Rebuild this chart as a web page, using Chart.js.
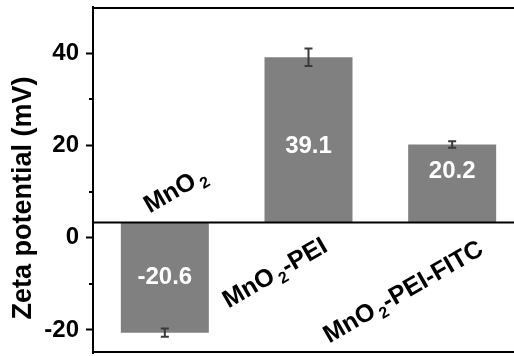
<!DOCTYPE html>
<html><head><meta charset="utf-8">
<script src="https://cdn.jsdelivr.net/npm/chart.js@4/dist/chart.umd.min.js"></script>
<style>
html,body{margin:0;padding:0;overflow:hidden;background:#fff;width:514px;height:356px}
#wrap{width:524px;height:356px}
</style></head>
<body><div id="wrap"><canvas id="c" width="524" height="356"></canvas></div>
<script>
// ---- data ----
const categories = ['MnO2', 'MnO2-PEI', 'MnO2-PEI-FITC'];
const zetaValues = [-20.6, 39.1, 20.2];
const zetaErrors = [0.9, 1.9, 0.7];
const valueLabels = ['-20.6', '39.1', '20.2'];
const yTickLabels = [-20, 0, 20, 40];
const yMinorTicks = [-10, 10, 30];
const baselineValue = 3.3;
const yTitle = 'Zeta potential (mV)';

// ---- styles / positions (drawing only) ----
const FAMILY = '"Liberation Sans", Arial, sans-serif';
const labelOffsets = [[-15, -9], [-80, 86], [-123, 121]];
const valueLabelShift = [0, 7, -12];

const overlay = {
  id: 'overlay',
  afterDatasetsDraw(chart) {
    const {ctx, chartArea: a, scales: {x, y}} = chart;
    ctx.save();
    ctx.strokeStyle = '#000';
    ctx.lineWidth = 2;
    const yb = y.getPixelForValue(baselineValue);
    [a.top + 1, a.bottom - 1, yb].forEach(py => {
      ctx.beginPath(); ctx.moveTo(a.left, py); ctx.lineTo(a.right, py); ctx.stroke();
    });
    yMinorTicks.forEach(v => {
      const py = Math.round(y.getPixelForValue(v));
      ctx.beginPath(); ctx.moveTo(a.left - 4, py); ctx.lineTo(a.left, py); ctx.stroke();
    });
    ctx.strokeStyle = '#3a3a3a';
    ctx.lineWidth = 2;
    zetaValues.forEach((v, i) => {
      const px = x.getPixelForValue(i);
      const t = y.getPixelForValue(v + zetaErrors[i]);
      const b = y.getPixelForValue(v - zetaErrors[i]);
      ctx.beginPath();
      ctx.moveTo(px, t); ctx.lineTo(px, b);
      ctx.moveTo(px - 4, t); ctx.lineTo(px + 4, t);
      ctx.moveTo(px - 4, b); ctx.lineTo(px + 4, b);
      ctx.stroke();
    });
    ctx.fillStyle = '#fff';
    ctx.font = 'bold 24px ' + FAMILY;
    ctx.textAlign = 'center';
    ctx.textBaseline = 'middle';
    zetaValues.forEach((v, i) => {
      const px = x.getPixelForValue(i);
      const py = (y.getPixelForValue(v) + yb) / 2 + valueLabelShift[i];
      ctx.fillText(valueLabels[i], px, py);
    });
    ctx.fillStyle = '#000';
    ctx.textAlign = 'left';
    ctx.textBaseline = 'alphabetic';
    categories.forEach((c, i) => {
      const m = c.match(/^(MnO)(2)(.*)$/);
      const px = x.getPixelForValue(i) + labelOffsets[i][0];
      const py = yb + labelOffsets[i][1];
      ctx.save();
      ctx.translate(px, py);
      ctx.rotate(-30 * Math.PI / 180);
      ctx.font = 'bold 25px ' + FAMILY;
      ctx.fillText(m[1], 0, 0);
      let w = ctx.measureText(m[1]).width + 3;
      ctx.font = 'bold 16px ' + FAMILY;
      ctx.fillText(m[2], w, 6);
      w += ctx.measureText(m[2]).width;
      ctx.font = 'bold 25px ' + FAMILY;
      ctx.fillText(m[3], w, 0);
      ctx.restore();
    });
    ctx.save();
    ctx.translate(24, 198);
    ctx.rotate(-Math.PI / 2);
    ctx.font = 'bold 27px ' + FAMILY;
    ctx.textAlign = 'center';
    ctx.textBaseline = 'middle';
    ctx.fillText(yTitle, 0, 0);
    ctx.restore();
    ctx.restore();
  }
};

new Chart(document.getElementById('c'), {
  type: 'bar',
  data: {
    labels: categories,
    datasets: [{
      data: zetaValues,
      base: baselineValue,
      backgroundColor: '#808080',
      borderWidth: 0,
      barPercentage: 0.6125,
      categoryPercentage: 1
    }]
  },
  options: {
    responsive: false,
    animation: false,
    layout: {padding: {top: 7, bottom: 3, left: 0, right: 0}},
    plugins: {legend: {display: false}, tooltip: {enabled: false}},
    scales: {
      x: {display: false},
      y: {
        min: -25, max: 50,
        ticks: {
          color: '#000', padding: 7,
          font: {family: FAMILY, size: 24, weight: 'bold'},
          callback: v => String(v)
        },
        grid: {
          drawOnChartArea: false, drawTicks: true, tickLength: 7, tickWidth: 2, tickColor: '#000'
        },
        border: {display: true, color: '#000', width: 2},
        afterBuildTicks: s => { s.ticks = yTickLabels.map(v => ({value: v})); },
        afterFit: s => { s.width = 93; s.paddingTop = 0; s.paddingBottom = 0; }
      }
    }
  },
  plugins: [overlay]
});
</script>
</body></html>
